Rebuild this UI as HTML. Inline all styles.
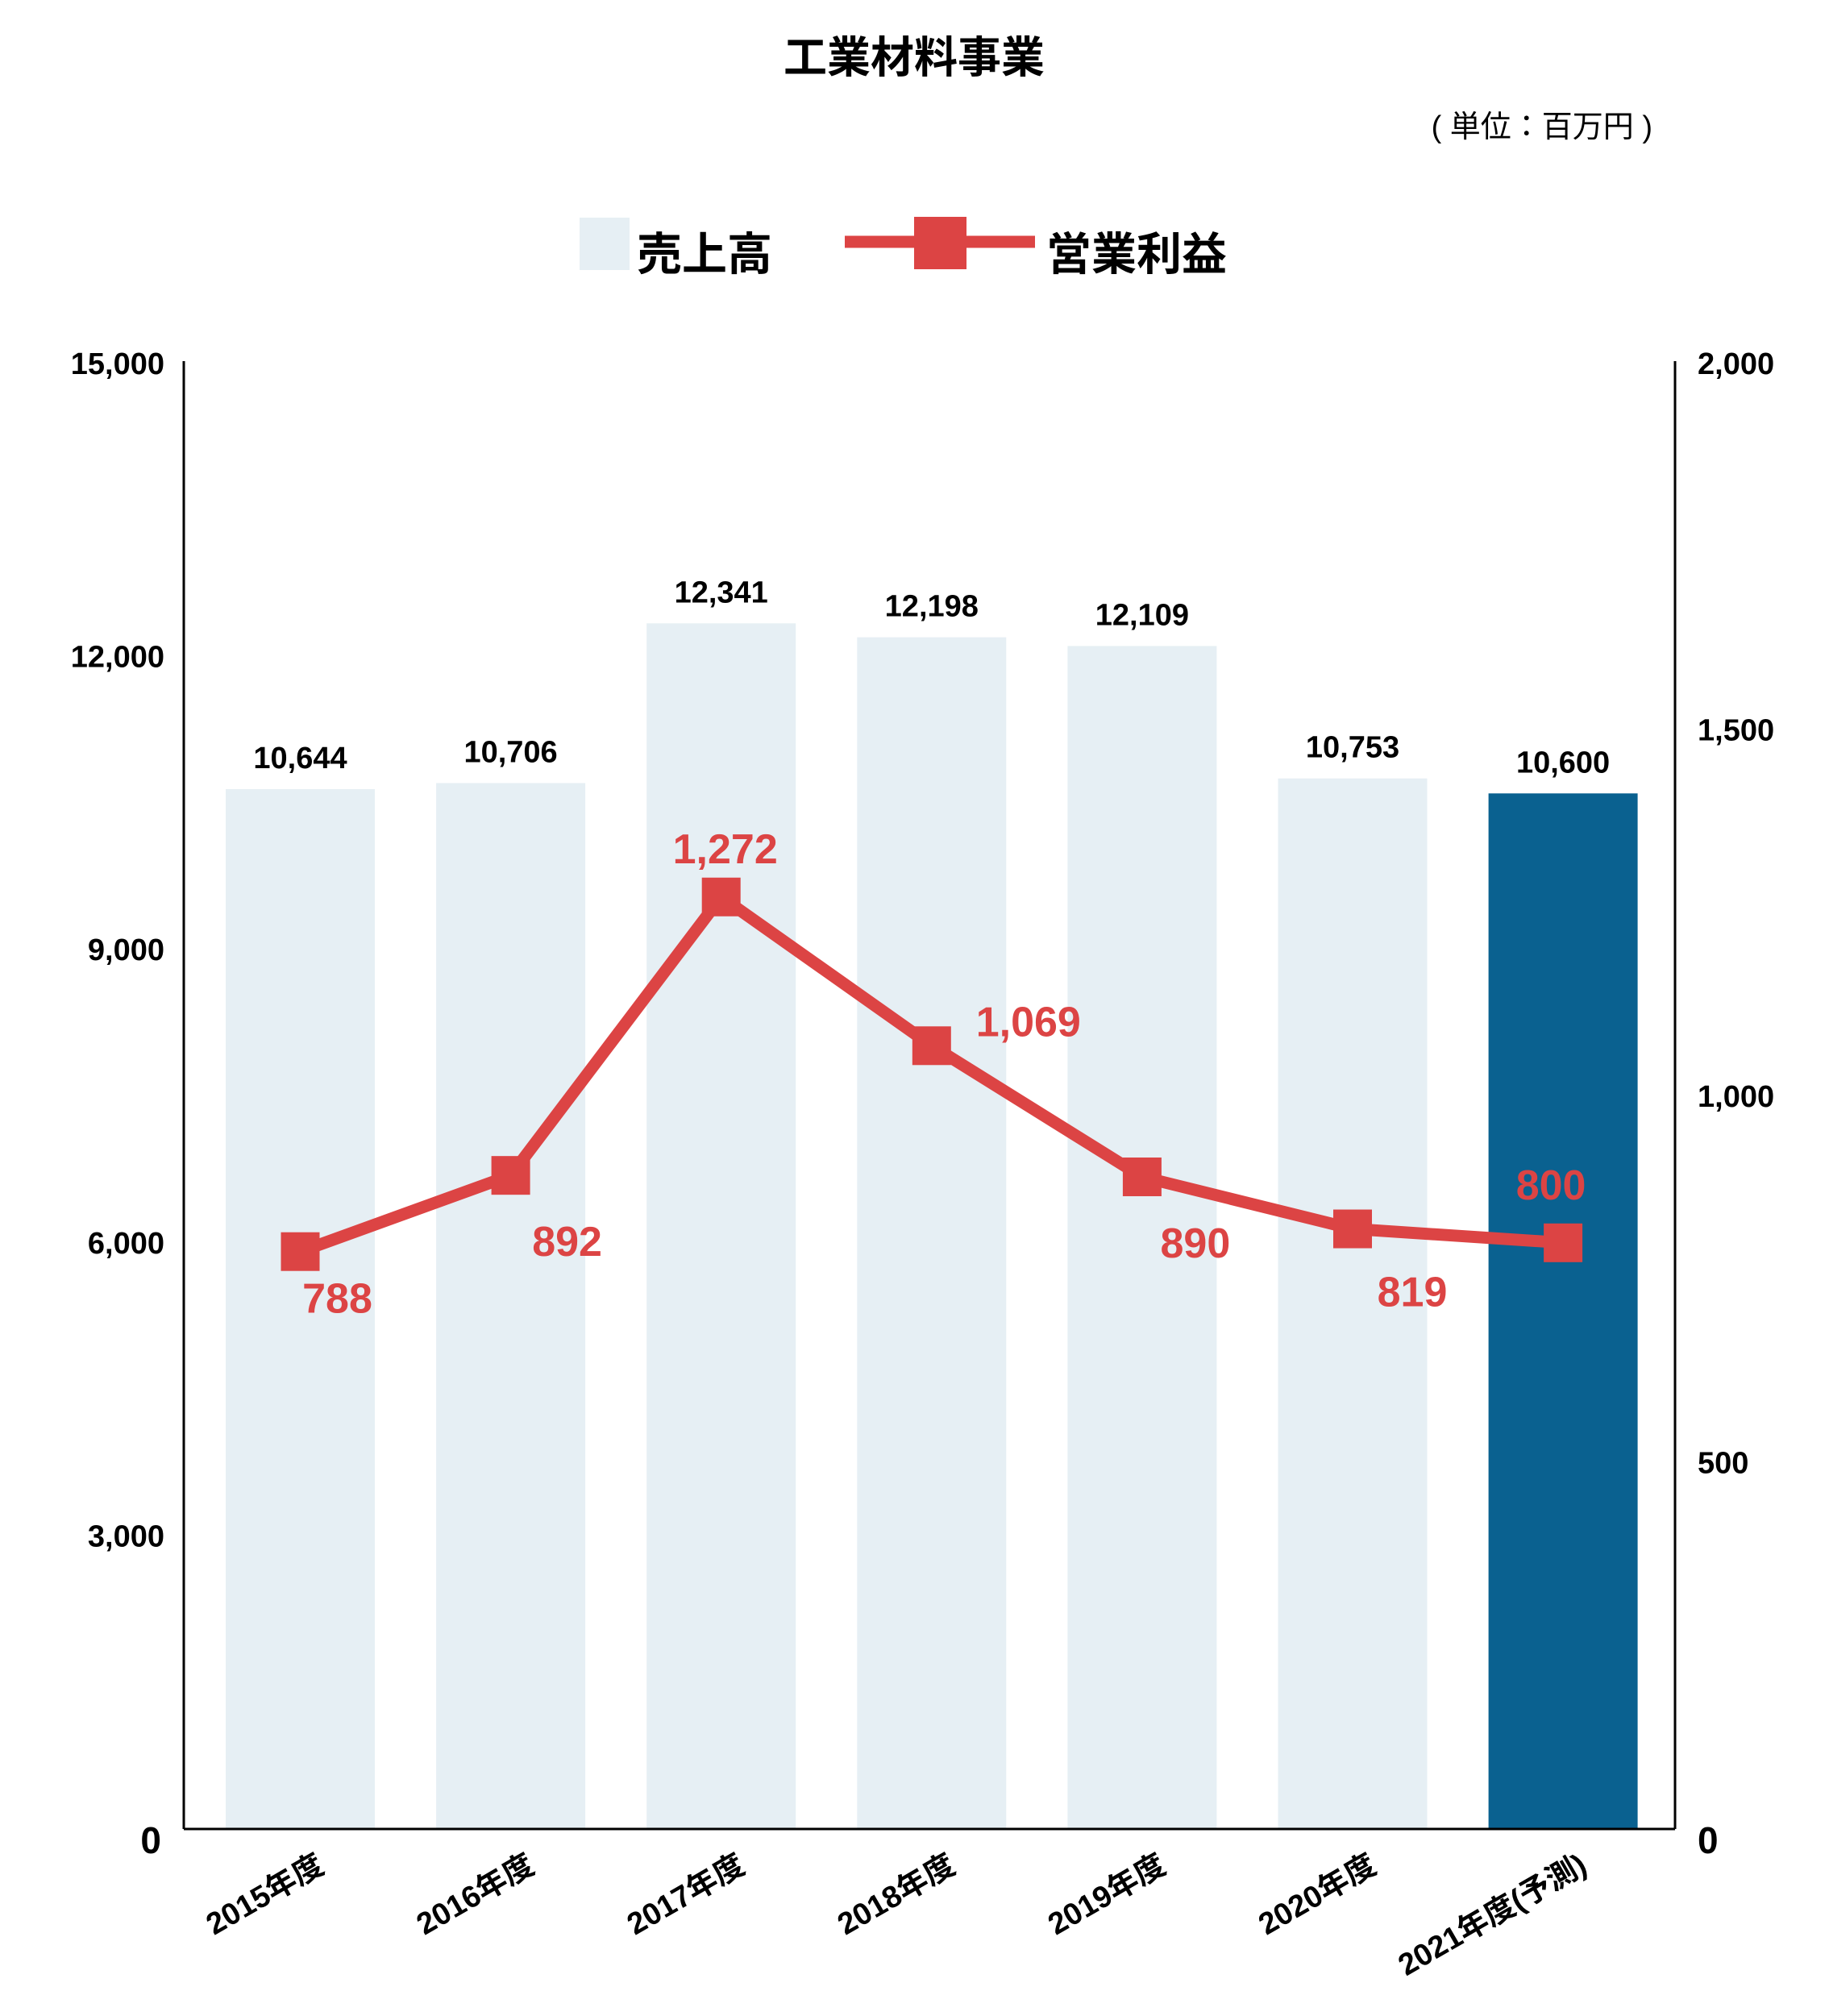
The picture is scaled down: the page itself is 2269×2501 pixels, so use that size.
<!DOCTYPE html>
<html><head><meta charset="utf-8">
<style>
html,body{margin:0;padding:0;background:#fff;}
svg text{font-family:"Liberation Sans","Noto Sans CJK JP",sans-serif;}
</style></head>
<body>
<svg id="chart" width="2269" height="2496" viewBox="0 0 2269 2496" xmlns="http://www.w3.org/2000/svg">
<text x="1134" y="90" font-size="54" font-weight="bold" text-anchor="middle">工業材料事業</text>
<text x="2050" y="170" font-size="38" text-anchor="end">( 単位：百万円 )</text>
<g>
<rect x="719" y="270" width="62" height="65" fill="#e6eff4"/>
<text x="790" y="335" font-size="56" font-weight="bold">売上高</text>
<line x1="1048" y1="300" x2="1284" y2="300" stroke="#dc4444" stroke-width="15"/>
<rect x="1134" y="269" width="65" height="65" fill="#dc4444"/>
<text x="1298" y="335" font-size="56" font-weight="bold">営業利益</text>
</g>
<g id="plot"></g>
</svg>
<script>
const categories=["2015年度","2016年度","2017年度","2018年度","2019年度","2020年度","2021年度(予測)"];
const sales=[10644,10706,12341,12198,12109,10753,10600];
const profit=[788,892,1272,1069,890,819,800];
const leftTicks=[0,3000,6000,9000,12000,15000];
const rightTicks=[0,500,1000,1500,2000];
const leftTickLabels=["0","3,000","6,000","9,000","12,000","15,000"];
const rightTickLabels=["0","500","1,000","1,500","2,000"];
const labelOffsets=[[46,58],[70,82],[5,-60],[120,-30],[66,82],[74,78],[-15,-72]];

const NS="http://www.w3.org/2000/svg";
const g=document.getElementById('plot');
const L=228,R=2078,B=2269,T=451;
const yL=v=>B-(v/15000)*(B-T);
const yR=v=>B-(v/2000)*(B-T);
const xC=i=>372.5+i*261.1;
const bw=185;
function mk(t,a,txt){const e=document.createElementNS(NS,t);for(const k in a)e.setAttribute(k,a[k]);if(txt!==undefined)e.textContent=txt;g.appendChild(e);return e;}
const fmt=v=>v.toLocaleString('en-US');

sales.forEach((v,i)=>{
  const last=i===sales.length-1;
  const r=mk('rect',{x:xC(i)-bw/2,y:yL(v),width:bw,height:B-yL(v),fill:last?'#0a6190':'#e6eff4'});
  
  
  const t=mk('text',{x:xC(i),y:yL(v)-26,'font-size':38,'font-weight':'bold','text-anchor':'middle'},fmt(v));
  
  
});
// axes
let a=mk('line',{x1:L,y1:448,x2:L,y2:B,stroke:'#000','stroke-width':3});


a=mk('line',{x1:R,y1:448,x2:R,y2:B,stroke:'#000','stroke-width':3});


a=mk('line',{x1:L,y1:B,x2:R,y2:B,stroke:'#000','stroke-width':3});


leftTicks.forEach((v,i)=>{
  const z=v===0;
  const t=mk('text',{x:z?200:204,y:yL(v)+(z?30:13),'font-size':z?46:38,'font-weight':'bold','text-anchor':'end'},leftTickLabels[i]);
  
  
});
rightTicks.forEach((v,i)=>{
  const z=v===0;
  const t=mk('text',{x:2106,y:yR(v)+(z?30:13),'font-size':z?46:38,'font-weight':'bold'},rightTickLabels[i]);
  
  
});
categories.forEach((c,i)=>{
  const x=xC(i)+32,y=B+52;
  const t=mk('text',{x:x,y:y,'font-size':38,'font-weight':'bold','text-anchor':'end',transform:`rotate(-30 ${x} ${y})`},c);
  
  
});
const pts=profit.map((v,i)=>xC(i)+','+yR(v)).join(' ');
const pl=mk('polyline',{points:pts,fill:'none',stroke:'#dc4444','stroke-width':15,'stroke-linejoin':'round'});


profit.forEach((v,i)=>{
  const m=mk('rect',{x:xC(i)-24,y:yR(v)-24,width:48,height:48,fill:'#dc4444'});
  
  
  const o=labelOffsets[i];
  const t=mk('text',{x:xC(i)+o[0],y:yR(v)+o[1]+18,'font-size':52,'font-weight':'bold',fill:'#dc4444','text-anchor':'middle'},fmt(v));
  
  
});
</script>
</body></html>
